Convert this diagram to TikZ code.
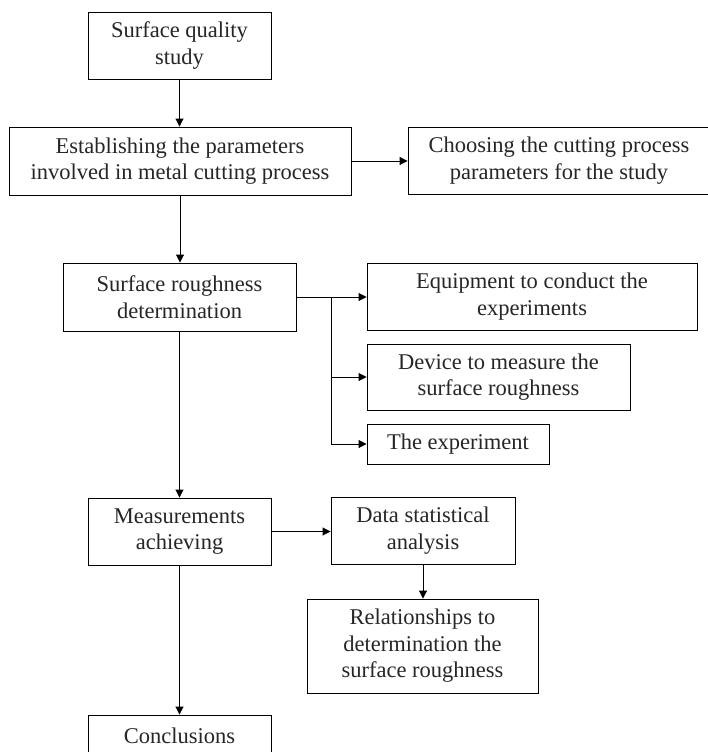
\documentclass[tikz,border=0pt]{standalone}
\usepackage{fontspec}
\setmainfont{Liberation Serif}
\usetikzlibrary{arrows.meta}
\begin{document}
\begin{tikzpicture}[x=1pt,y=-1pt,
  box/.style={draw=black,line width=0.9pt,inner sep=0pt,align=center,text=black!85,
    font=\fontsize{22.5}{26.5}\selectfont},
  conn/.style={draw=black,line width=0.9pt,-{Triangle[length=8pt,width=8pt]}},
  plain/.style={draw=black,line width=0.9pt}]
\useasboundingbox (0,0) rectangle (707,752);
\node[box,minimum width=183pt,minimum height=67pt] (sq) at (179.5,45.5) {Surface quality\\study};
\node[box,minimum width=342pt,minimum height=68pt] (est) at (180,161) {Establishing the parameters\\involved in metal cutting process};
\node[box,minimum width=302pt,minimum height=67pt] (cho) at (559,160.5) {Choosing the cutting process\\parameters for the study};
\node[box,minimum width=233pt,minimum height=68pt] (rough) at (179.5,297) {Surface roughness\\determination};
\node[box,minimum width=330pt,minimum height=67pt] (equip) at (532,296.5) {Equipment to conduct the\\experiments};
\node[box,minimum width=263pt,minimum height=66pt] (dev) at (498.5,377) {Device to measure the\\surface roughness};
\node[box,minimum width=182pt,minimum height=40pt] (exp) at (458,444) {The experiment};
\node[box,minimum width=183pt,minimum height=67pt] (meas) at (179.5,531.5) {Measurements\\achieving};
\node[box,minimum width=184pt,minimum height=67pt] (data) at (423,530.5) {Data statistical\\analysis};
\node[box,minimum width=231pt,minimum height=94pt] (rel) at (422.5,646) {Relationships to\\determination the\\surface roughness};
\node[box,minimum width=183pt,minimum height=42pt] (conc) at (179.5,736) {Conclusions};
\coordinate (br) at (331,297);
\draw[conn] (sq.south) -- (sq.south |- est.north);
\draw[conn] (est.east) -- (est.east -| cho.west);
\draw[conn] (est.south) -- (est.south |- rough.north);
\draw[conn] (rough.east) -- (rough.east -| equip.west);
\draw[conn] (br) |- (dev.west);
\draw[conn] (br) |- (exp.west);
\draw[conn] (rough.south) -- (rough.south |- meas.north);
\draw[conn] (meas.east) -- (meas.east -| data.west);
\draw[conn] (data.south) -- (data.south |- rel.north);
\draw[conn] (meas.south) -- (meas.south |- conc.north);
\end{tikzpicture}
\end{document}
